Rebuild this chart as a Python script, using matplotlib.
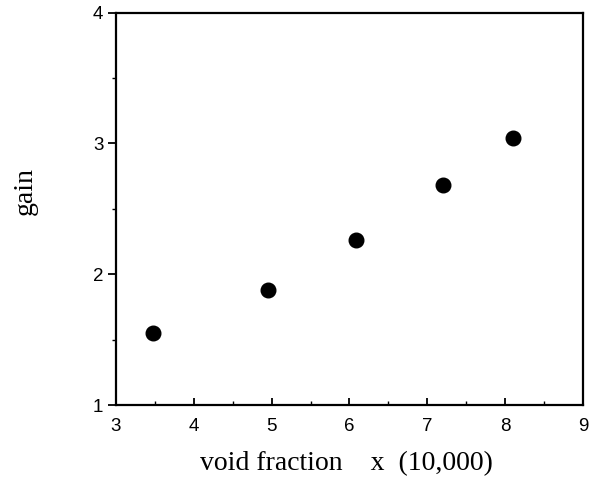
import matplotlib
matplotlib.use("Agg")
import matplotlib.pyplot as plt
from matplotlib.ticker import MultipleLocator

void_fraction = [3.47, 4.95, 6.09, 7.20, 8.10]
gain = [1.55, 1.88, 2.26, 2.68, 3.04]

fig = plt.figure(figsize=(5.9, 4.84), dpi=100)
ax = fig.add_axes([0.1966, 0.1632, 0.7914, 0.8106])
ax.plot(void_fraction, gain, 'o', color='black', markersize=10.5, linestyle='none')
ax.set_xlim(3, 9)
ax.set_ylim(1, 4)
ax.xaxis.set_major_locator(MultipleLocator(1))
ax.xaxis.set_minor_locator(MultipleLocator(0.5))
ax.yaxis.set_major_locator(MultipleLocator(1))
ax.yaxis.set_minor_locator(MultipleLocator(0.5))
ax.tick_params(axis='x', which='major', direction='in', length=5, width=1.3, pad=9)
ax.tick_params(axis='x', which='minor', direction='in', length=3, width=1.0)
ax.tick_params(axis='y', which='major', direction='out', length=6, width=1.3, pad=3)
ax.tick_params(axis='y', which='minor', direction='out', length=3, width=1.0)
for lab in ax.get_xticklabels() + ax.get_yticklabels():
    lab.set_fontfamily('Liberation Sans')
    lab.set_fontsize(13.5)
for s in ax.spines.values():
    s.set_linewidth(1.6)
fig.text(346 / 590, 1 - 464 / 484, 'void fraction    x  (10,000)', ha='center', va='center',
         family='Liberation Serif', fontsize=20)
fig.text(25 / 590, 1 - 191 / 484, 'gain', ha='center', va='center', rotation=90,
         family='Liberation Serif', fontsize=20)
fig.savefig('out.png', dpi=100)
